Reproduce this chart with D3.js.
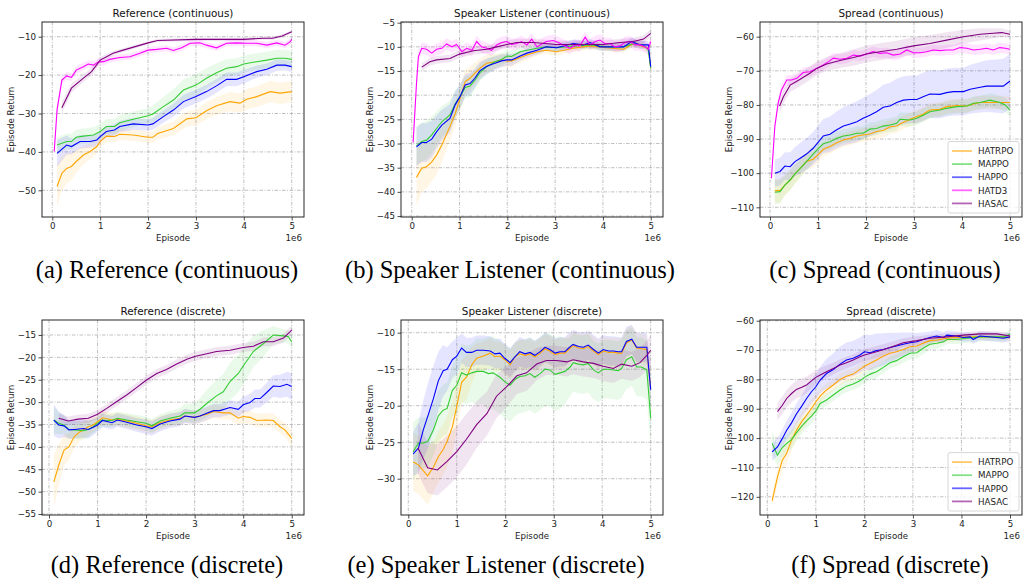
<!DOCTYPE html>
<html><head><meta charset="utf-8">
<script src="https://cdn.jsdelivr.net/npm/d3@7"></script>
<style>
body{margin:0;background:#fff;}
svg text{font-family:"DejaVu Sans",sans-serif;}
</style></head>
<body>
<script>
// ---------- categories / legend ----------
const algos = ["HATRPO","MAPPO","HAPPO","HATD3","HASAC"];
const algoColors = {HATRPO:"#ffa500",MAPPO:"#33cc33",HAPPO:"#0000ff",HATD3:"#ff00ff",HASAC:"#800080"};
const xTicks = [0,1,2,3,4,5];

// ---------- (a) Reference (continuous): [episode(1e6), mean, sd] ----------
const refC_HATRPO = [[0.1,-49.0,5.5],[0.2,-45.6,4.5],[0.3,-44.3,4],[0.4,-43.8,3.5],[0.5,-42.5,3],[0.65,-40.8,2.5],[0.79,-39.9,2],[0.93,-38.6,1.8],[1.0,-37.3,1.5],[1.13,-35.9,1.5],[1.3,-36.0,1.5],[1.41,-35.4,1.5],[1.69,-35.6,1.5],[2.0,-36.2,1.5],[2.1,-36.2,1.5],[2.2,-35.2,1.6],[2.53,-33.9,1.8],[2.81,-31.4,2],[3.0,-31.1,2],[3.22,-29.3,2.2],[3.43,-28.0,2.3],[3.71,-26.9,2.5],[3.92,-27.3,2.5],[4.06,-26.3,2.6],[4.27,-25.6,2.7],[4.55,-24.3,2.8],[4.76,-24.7,2.8],[5.0,-24.3,2.8]];
const refC_MAPPO = [[0.1,-38.2,2],[0.3,-37.3,2],[0.4,-37.3,2],[0.5,-36.2,2],[0.65,-35.9,2],[0.86,-35.6,2],[1.0,-34.7,2],[1.13,-33.4,2],[1.3,-33.4,2],[1.41,-32.4,2],[1.69,-31.5,2],[2.0,-30.6,2],[2.1,-30.1,2.2],[2.32,-28.2,2.5],[2.53,-26.5,2.8],[2.74,-23.9,2.8],[3.0,-22.6,2.8],[3.22,-20.8,2.6],[3.43,-19.4,2.5],[3.64,-18.2,2.3],[3.85,-17.8,2.2],[4.0,-17.1,2.2],[4.27,-16.5,2.2],[4.48,-16.1,2.2],[4.69,-15.6,2.2],[4.86,-15.6,2.2],[5.0,-15.9,2.2]];
const refC_HAPPO = [[0.1,-40.4,3.5],[0.3,-38.2,2.5],[0.4,-38.6,2],[0.58,-37.3,1.8],[0.79,-37.3,1.6],[0.93,-36.9,1.5],[1.0,-36.0,1.5],[1.13,-34.7,1.5],[1.3,-34.3,1.5],[1.41,-33.4,1.5],[1.69,-32.7,1.5],[2.0,-33.0,1.5],[2.1,-32.7,1.5],[2.32,-30.8,1.6],[2.53,-29.1,1.7],[2.74,-26.9,1.8],[3.0,-25.6,1.8],[3.22,-24.3,1.8],[3.43,-22.8,1.8],[3.64,-21.1,1.8],[3.85,-21.1,1.8],[4.0,-20.4,1.7],[4.27,-19.1,1.6],[4.48,-18.5,1.5],[4.69,-17.4,1.5],[4.86,-17.4,1.4],[5.0,-17.8,1.4]];
const refC_HATD3 = [[0.04,-39.9,1.5],[0.1,-29,1.5],[0.2,-21.3,1],[0.3,-20.2,1],[0.4,-20.6,1],[0.5,-18.7,1],[0.65,-17.8,1],[0.75,-17.1,1],[0.86,-17.4,1],[0.96,-16.6,1],[1.07,-16.5,1],[1.2,-15.9,0.8],[1.41,-15.4,0.8],[1.62,-15.2,0.8],[1.83,-14.3,0.8],[2.0,-13.5,0.8],[2.18,-13.3,0.8],[2.39,-13.0,0.8],[2.53,-13.6,0.8],[2.7,-12.9,0.8],[2.88,-11.7,0.8],[3.08,-11.6,0.8],[3.22,-12.2,0.8],[3.43,-12.9,0.8],[3.64,-11.7,0.8],[3.85,-11.6,0.8],[4.06,-11.7,0.8],[4.27,-11.7,0.8],[4.48,-12.2,0.8],[4.69,-11.6,0.8],[4.86,-12.2,0.8],[4.97,-11.3,0.8],[5.0,-10.7,0.8]];
const refC_HASAC = [[0.2,-28.5,1.5],[0.4,-23.4,1.2],[0.65,-20.8,1],[0.82,-19.1,1],[1.0,-16.1,0.8],[1.27,-14.3,0.6],[1.48,-13.5,0.5],[2.0,-11.6,0.4],[2.2,-11.0,0.4],[3.0,-10.7,0.4],[4.0,-10.7,0.4],[4.4,-10.4,0.4],[4.6,-10.4,0.4],[4.8,-9.8,0.4],[5.0,-8.7,0.4]];

// ---------- (b) Speaker Listener (continuous) ----------
const spkC_HATRPO = [[0.1,-37.0,6],[0.21,-35.1,5],[0.31,-34.8,4.5],[0.42,-33.8,4],[0.52,-32.4,4],[0.63,-30.3,3.5],[0.8,-26.5,3],[0.91,-23.8,2.5],[1.01,-20.7,2.5],[1.12,-17.2,2.5],[1.22,-16.5,2.5],[1.32,-15.5,2.2],[1.43,-14.4,2],[1.57,-13.4,1.8],[1.74,-13.1,1.5],[1.88,-12.7,1.3],[1.99,-12.9,1.2],[2.09,-12.9,1.2],[2.27,-12.2,1],[2.41,-11.7,1],[2.62,-11.0,0.8],[2.82,-10.7,0.8],[3.03,-11.0,0.8],[3.38,-10.3,0.7],[3.73,-9.8,0.7],[4.08,-10.2,0.7],[4.43,-10.5,0.7],[4.64,-9.3,0.7],[4.85,-10.0,0.7],[4.95,-10.3,0.7],[5.0,-14.4,1]];
const spkC_MAPPO = [[0.1,-30.5,4],[0.21,-29.6,4],[0.31,-29.3,4],[0.42,-28.2,3.8],[0.52,-26.9,3.5],[0.63,-25.5,3.2],[0.8,-24.1,3],[0.91,-21.8,2.8],[1.01,-20.3,2.5],[1.12,-18.4,2.3],[1.22,-18.1,2.2],[1.32,-16.9,2],[1.43,-15.3,1.8],[1.57,-14.1,1.6],[1.74,-13.1,1.4],[1.88,-12.6,1.3],[1.99,-11.9,1.2],[2.09,-12.0,1.2],[2.27,-11.0,1],[2.41,-10.7,1],[2.62,-10.3,0.9],[2.82,-10.0,0.8],[3.03,-10.2,0.8],[3.38,-9.8,0.8],[3.73,-9.6,0.8],[4.08,-10.0,0.8],[4.43,-10.0,0.8],[4.64,-9.3,0.8],[4.85,-9.6,0.8],[4.95,-10.7,0.8],[5.0,-14.4,1]];
const spkC_HAPPO = [[0.1,-30.7,4],[0.21,-29.8,4],[0.31,-29.8,4],[0.42,-29.1,3.8],[0.52,-27.6,3.5],[0.63,-26.2,3.2],[0.8,-24.8,3],[0.91,-22.0,2.8],[1.01,-20.3,2.5],[1.12,-17.9,2.3],[1.22,-17.6,2.2],[1.32,-16.5,2],[1.43,-14.9,1.8],[1.57,-14.0,1.6],[1.74,-13.4,1.4],[1.88,-12.9,1.3],[1.99,-12.7,1.2],[2.09,-12.7,1.2],[2.27,-11.9,1],[2.41,-11.3,1],[2.62,-10.7,0.9],[2.82,-10.0,0.8],[3.03,-10.2,0.8],[3.38,-9.3,0.8],[3.59,-9.6,0.8],[3.73,-9.1,0.8],[3.94,-10.0,0.8],[4.22,-10.0,0.8],[4.43,-10.0,0.8],[4.6,-8.9,0.8],[4.78,-9.6,0.8],[4.95,-9.6,0.8],[5.0,-14.1,1]];
const spkC_HATD3 = [[0.03,-29.8,2],[0.1,-17.6,1.5],[0.14,-12.0,1.2],[0.21,-10.3,1.2],[0.31,-10.5,1.2],[0.42,-11.3,1.2],[0.52,-10.5,1.2],[0.63,-10.3,1.2],[0.73,-9.4,1.2],[0.84,-10.0,1.2],[0.94,-9.5,1.2],[1.05,-11.0,1.2],[1.15,-10.3,1.2],[1.26,-10.7,1.2],[1.36,-8.9,1.2],[1.46,-10.0,1.2],[1.57,-10.3,1.2],[1.67,-10.7,1.2],[1.78,-9.6,1.2],[1.88,-9.1,1.2],[1.99,-8.9,1.2],[2.09,-9.5,1.2],[2.2,-9.3,1.2],[2.3,-8.9,1.2],[2.41,-9.6,1.2],[2.51,-8.4,1.2],[2.62,-10.0,1.2],[2.72,-9.4,1.2],[2.82,-8.9,1.2],[2.96,-8.7,1.2],[3.07,-9.1,1.2],[3.17,-9.6,1.2],[3.31,-10.3,1.2],[3.42,-9.6,1.2],[3.52,-9.8,1.2],[3.63,-8.0,1.2],[3.73,-9.6,1.2],[3.84,-8.9,1.2],[3.94,-8.6,1.2],[4.04,-9.3,1.2],[4.15,-9.3,1.2],[4.25,-10.0,1.2],[4.36,-9.8,1.2],[4.46,-9.1,1.2],[4.57,-8.9,1.2],[4.67,-9.6,1.2],[4.78,-9.6,1.2],[4.88,-10.0,1.2],[4.95,-10.5,1.2],[5.0,-8.9,1.2]];
const spkC_HASAC = [[0.21,-14.2,0.8],[0.38,-13.1,0.8],[0.52,-12.7,0.8],[0.8,-12.4,0.8],[1.0,-11.5,0.8],[1.29,-10.8,0.8],[1.57,-10.5,0.8],[1.78,-10.0,0.8],[1.99,-9.5,0.8],[2.2,-9.1,0.8],[2.55,-9.1,0.8],[3.03,-9.5,0.8],[3.52,-9.5,0.8],[4.01,-9.5,0.8],[4.36,-9.1,0.8],[4.64,-8.9,0.8],[4.85,-8.4,0.8],[5.0,-7.2,0.8]];

// ---------- (c) Spread (continuous) ----------
const sprC_HATRPO = [[0.1,-105.1,3.5],[0.21,-105.1,3.5],[0.31,-103.5,3],[0.42,-102.0,3],[0.52,-100.2,2.8],[0.63,-98.6,2.6],[0.76,-96.6,2.5],[0.9,-95.9,2.4],[1.01,-94.5,2.3],[1.11,-93.0,2.2],[1.25,-92.2,2.1],[1.39,-91.1,2],[1.53,-90.3,2],[1.67,-89.8,2],[1.81,-89.1,2],[1.94,-88.8,2],[2.08,-88.5,2],[2.22,-87.8,2],[2.36,-87.5,2],[2.5,-86.4,2],[2.64,-86.2,2],[2.71,-85.6,2],[2.92,-84.2,2],[3.06,-83.4,2],[3.19,-82.7,2],[3.33,-81.5,2],[3.54,-81.3,2],[3.68,-80.5,2],[3.89,-80.2,2],[4.1,-80.3,2],[4.24,-79.7,2],[4.38,-79.3,2],[4.58,-79.3,2],[4.79,-79.3,2],[4.9,-79.3,2],[5.0,-79.3,2]];
const sprC_MAPPO = [[0.1,-105.6,3.5],[0.21,-105.4,3.5],[0.31,-103.5,3],[0.42,-102.0,3],[0.52,-100.2,2.8],[0.63,-98.6,2.6],[0.76,-96.6,2.5],[0.9,-94.4,2.4],[1.01,-92.7,2.3],[1.11,-91.4,2.2],[1.25,-90.8,2.1],[1.39,-89.8,2],[1.53,-89.1,2],[1.67,-88.8,2],[1.81,-88.3,2],[1.94,-88.3,2],[2.08,-87.1,2],[2.22,-86.9,2],[2.36,-86.2,2],[2.5,-85.9,2],[2.64,-85.4,2],[2.71,-84.2,2],[2.92,-84.4,2],[3.06,-83.9,2],[3.19,-83.0,2],[3.33,-82.0,2],[3.54,-81.5,2],[3.68,-81.0,2],[3.89,-80.5,2],[4.1,-80.3,2],[4.24,-79.5,2],[4.38,-79.3,2],[4.58,-78.6,2],[4.79,-79.3,2],[4.9,-80.0,2],[5.0,-81.5,2]];
const sprC_HAPPO = [[0.1,-100.0,4],[0.21,-99.5,4],[0.31,-97.9,4],[0.42,-98.1,4.2],[0.52,-96.6,4.3],[0.63,-95.6,4.5],[0.76,-94.4,4.6],[0.9,-92.7,4.8],[1.01,-90.8,5],[1.11,-89.1,5],[1.25,-88.6,5.2],[1.39,-87.3,5.4],[1.53,-86.2,5.6],[1.67,-85.6,5.8],[1.81,-84.9,6],[1.94,-83.9,6],[2.08,-83.0,6.2],[2.22,-82.0,6.4],[2.36,-80.7,6.6],[2.5,-80.3,6.8],[2.64,-79.3,7],[2.78,-78.6,7],[2.92,-78.4,7],[3.06,-78.4,7],[3.19,-77.6,7],[3.33,-76.8,7],[3.54,-76.9,7],[3.68,-76.4,7],[3.82,-76.1,7],[4.03,-76.1,7],[4.17,-75.4,7.2],[4.38,-74.8,7.4],[4.51,-74.5,7.6],[4.72,-74.5,7.8],[4.86,-74.5,8],[5.0,-73.0,8]];
const sprC_HATD3 = [[0.03,-101.5,1.5],[0.1,-86.4,1.5],[0.17,-79.5,1.5],[0.24,-75.6,1.5],[0.35,-72.7,1.5],[0.45,-72.7,1.5],[0.56,-72.2,1.5],[0.69,-70.5,1.5],[0.83,-70.3,1.5],[0.97,-69.3,1.5],[1.11,-68.3,1.5],[1.22,-67.3,1.5],[1.32,-66.3,1.5],[1.46,-66.6,1.5],[1.6,-66.3,1.5],[1.74,-65.4,1.5],[1.88,-65.7,1.5],[2.01,-65.1,1.5],[2.15,-64.4,1.5],[2.29,-64.9,1.5],[2.43,-64.7,1.5],[2.57,-65.4,1.5],[2.71,-65.1,1.5],[2.85,-63.9,1.5],[2.99,-64.7,1.5],[3.13,-64.7,1.5],[3.26,-64.4,1.5],[3.4,-63.9,1.5],[3.54,-64.1,1.5],[3.68,-63.9,1.5],[3.82,-63.9,1.5],[3.96,-63.2,1.5],[4.1,-63.4,1.5],[4.24,-63.9,1.5],[4.38,-63.7,1.5],[4.51,-63.4,1.5],[4.65,-63.9,1.5],[4.79,-63.2,1.5],[4.9,-63.4,1.5],[5.0,-63.7,1.5]];
const sprC_HASAC = [[0.2,-80.3,2],[0.28,-77.6,2],[0.42,-74.2,2],[0.63,-72.5,2],[0.83,-70.7,2],[0.97,-69.3,2],[1.18,-68.0,2],[1.46,-67.0,2.2],[1.74,-66.1,2.4],[2.01,-65.1,2.5],[2.29,-64.4,2.5],[2.64,-63.7,2.5],[2.99,-62.7,2.5],[3.33,-62.0,2.5],[3.68,-61.0,2.3],[4.03,-60.0,2],[4.38,-59.3,1.8],[4.65,-59.0,1.5],[4.83,-58.8,1.2],[5.0,-59.3,1]];

// ---------- (d) Reference (discrete) ----------
const refD_HATRPO = [[0.1,-47.8,6],[0.2,-44.1,4.5],[0.31,-40.7,3.5],[0.41,-40.0,3],[0.52,-37.7,2.5],[0.64,-36.6,2],[0.81,-35.5,1.8],[0.91,-35.1,1.5],[1.0,-34.4,1.5],[1.1,-33.5,1.5],[1.3,-34.0,1.5],[1.41,-33.8,1.5],[1.6,-34.2,1.5],[1.81,-34.7,1.5],[2.0,-35.3,1.5],[2.12,-35.5,1.5],[2.29,-34.6,1.5],[2.49,-34.0,1.5],[2.7,-33.6,1.5],[2.8,-33.1,1.5],[3.0,-33.4,1.5],[3.25,-32.7,1.5],[3.39,-32.1,1.5],[3.59,-32.4,1.5],[3.73,-32.4,1.5],[3.9,-33.6,1.5],[4.0,-33.2,1.5],[4.14,-33.4,1.5],[4.28,-34.1,1.5],[4.48,-34.0,1.5],[4.62,-34.1,1.5],[4.76,-35.5,1.5],[4.86,-36.2,1.6],[5.0,-38.1,1.8]];
const refD_MAPPO = [[0.1,-34.0,3],[0.2,-34.7,2.5],[0.31,-35.1,2],[0.41,-36.1,2],[0.52,-36.2,2],[0.71,-36.4,2],[0.81,-36.1,1.8],[0.91,-35.5,1.5],[1.0,-34.7,1.5],[1.1,-34.0,1.5],[1.2,-34.1,1.5],[1.3,-34.1,1.5],[1.41,-33.6,1.5],[1.6,-34.0,1.5],[1.81,-34.4,1.5],[2.0,-34.7,1.5],[2.12,-35.3,1.5],[2.29,-34.2,1.5],[2.49,-33.6,1.6],[2.7,-33.1,1.8],[2.8,-32.4,2],[3.0,-32.4,2.2],[3.11,-31.6,2.5],[3.25,-30.3,3],[3.45,-28.6,3.5],[3.59,-27.7,4],[3.73,-25.4,4.2],[3.9,-23.6,4.2],[4.04,-21.3,4],[4.21,-18.7,3.5],[4.42,-16.9,3],[4.62,-15.0,2],[4.83,-15.2,1.5],[4.93,-15.4,1.5],[5.0,-16.5,1.5]];
const refD_HAPPO = [[0.1,-34.0,3.5],[0.2,-35.1,3],[0.31,-35.3,2.5],[0.41,-36.2,2],[0.52,-36.1,2],[0.71,-35.9,2],[0.81,-36.1,2],[0.91,-35.6,1.8],[1.0,-35.1,1.5],[1.1,-34.1,1.5],[1.3,-34.6,1.5],[1.41,-34.0,1.5],[1.6,-34.5,1.5],[1.81,-35.1,1.5],[2.0,-35.5,1.6],[2.12,-35.9,1.6],[2.29,-34.9,1.6],[2.49,-34.2,1.6],[2.7,-33.8,1.6],[2.8,-33.1,1.6],[3.0,-33.4,1.5],[3.11,-33.1,1.5],[3.25,-32.5,1.5],[3.39,-31.9,1.5],[3.52,-31.9,1.5],[3.73,-31.2,1.6],[3.9,-31.6,1.7],[4.0,-30.6,1.8],[4.14,-30.1,1.9],[4.24,-29.2,2],[4.35,-29.2,2],[4.48,-27.9,2.2],[4.62,-26.4,2.4],[4.76,-26.5,2.6],[4.9,-26.0,2.8],[5.0,-26.5,3]];
const refD_HASAC = [[0.2,-33.6,1],[0.4,-34.2,1],[0.6,-33.8,1],[0.81,-33.6,1],[1.0,-32.7,1],[1.19,-31.4,1],[1.39,-29.9,1],[1.6,-28.4,1],[1.81,-26.7,1],[2.0,-25.1,1],[2.22,-23.6,1],[2.42,-22.7,1],[2.63,-21.5,1],[2.84,-20.4,1],[3.0,-19.8,1],[3.25,-19.2,1],[3.45,-18.7,1],[3.73,-18.4,1],[4.0,-17.8,1],[4.21,-17.5,1],[4.42,-16.5,1],[4.62,-16.5,1],[4.83,-15.7,1],[5.0,-13.9,1]];

// ---------- (e) Speaker Listener (discrete) ----------
const spkD_HATRPO = [[0.1,-27.7,4],[0.21,-28.1,4],[0.4,-29.6,4],[0.52,-28.4,3.5],[0.62,-27.0,3.5],[0.72,-26.0,3.5],[0.8,-24.9,3.5],[0.91,-22.9,3.5],[1.0,-20.1,3.5],[1.1,-16.8,3],[1.2,-16.1,3],[1.31,-14.4,2.5],[1.41,-13.5,2],[1.55,-13.2,2],[1.69,-12.8,2],[1.79,-13.3,2],[1.89,-13.2,2],[1.99,-13.7,2],[2.1,-14.4,2],[2.2,-13.3,2],[2.3,-12.9,2],[2.41,-13.1,2],[2.51,-12.9,2],[2.61,-13.3,2],[2.72,-12.8,2],[2.82,-12.2,2],[2.92,-12.5,2],[3.03,-13.0,2],[3.13,-12.8,2],[3.23,-12.8,2],[3.34,-12.1,2],[3.4,-11.8,2],[3.51,-12.1,2],[3.61,-12.2,2],[3.71,-11.9,2],[3.82,-12.5,2],[3.92,-13.0,2],[4.02,-12.5,2],[4.13,-12.7,2],[4.23,-12.7,2],[4.33,-12.8,2],[4.4,-12.8,2],[4.5,-11.4,2],[4.61,-11.0,2],[4.71,-12.1,2],[4.81,-12.2,2],[4.92,-12.3,2],[5.0,-17.6,3]];
const spkD_MAPPO = [[0.1,-26.3,4],[0.21,-25.1,3.5],[0.31,-25.1,3.5],[0.4,-24.9,3.5],[0.52,-23.3,3.5],[0.62,-21.4,3.5],[0.72,-20.6,3.5],[0.8,-20.4,3.5],[0.91,-17.9,3.5],[1.0,-17.2,4],[1.1,-15.5,4],[1.2,-15.8,4],[1.31,-15.5,4],[1.41,-15.3,4.5],[1.55,-15.3,4.5],[1.65,-15.6,5],[1.75,-15.5,5],[1.89,-16.1,5],[1.99,-16.7,5],[2.1,-17.2,5],[2.2,-16.4,5],[2.3,-16.0,5],[2.41,-15.9,5],[2.51,-15.6,5],[2.61,-16.1,5],[2.72,-15.6,5],[2.82,-15.0,5],[2.92,-15.1,5],[3.03,-15.7,5],[3.13,-15.5,5],[3.23,-15.3,4.5],[3.34,-14.7,4],[3.4,-14.1,4],[3.51,-14.3,4],[3.61,-14.4,4],[3.71,-14.2,4],[3.82,-15.1,4],[3.92,-15.5,4],[4.02,-15.0,4],[4.13,-15.0,4],[4.23,-15.1,4],[4.33,-15.2,4],[4.4,-14.9,4],[4.5,-13.7,4],[4.61,-13.3,4],[4.71,-14.7,4],[4.81,-14.7,4],[4.92,-15.1,4],[5.0,-21.7,4]];
const spkD_HAPPO = [[0.1,-26.6,3],[0.21,-25.8,3.5],[0.31,-23.3,4],[0.41,-21.3,4.5],[0.52,-19.0,4.5],[0.62,-16.6,4],[0.72,-15.2,3.5],[0.8,-15.0,3],[0.91,-13.7,2.5],[1.0,-13.2,2.5],[1.1,-12.1,2],[1.2,-12.7,2],[1.31,-12.7,2],[1.41,-12.4,2],[1.55,-12.4,2],[1.69,-12.5,2],[1.79,-12.9,2],[1.89,-12.8,2],[1.99,-13.5,2],[2.1,-14.1,2],[2.2,-13.3,2],[2.3,-12.6,2],[2.41,-12.9,2],[2.51,-12.7,2],[2.61,-13.1,2],[2.72,-12.6,2],[2.82,-12.0,2],[2.92,-12.3,2],[3.03,-12.8,2],[3.13,-12.6,2],[3.23,-12.6,2],[3.34,-11.9,2],[3.4,-11.6,2],[3.51,-11.9,2],[3.61,-12.0,2],[3.71,-11.7,2],[3.82,-12.3,2],[3.92,-12.8,2],[4.02,-12.3,2],[4.13,-12.5,2],[4.23,-12.5,2],[4.33,-12.6,2],[4.4,-12.6,2],[4.5,-11.2,2],[4.61,-10.9,2],[4.71,-12.0,2],[4.81,-12.0,2],[4.92,-12.0,2],[5.0,-17.8,3]];
const spkD_HASAC = [[0.2,-25.8,3.5],[0.4,-28.5,3.5],[0.6,-28.8,3.5],[0.79,-27.7,3.5],[1.0,-26.3,3.5],[1.2,-24.6,3.5],[1.41,-22.6,3.2],[1.62,-21.1,3],[1.82,-18.7,3],[2.03,-17.4,2.8],[2.24,-15.9,2.5],[2.44,-15.5,2.5],[2.65,-14.3,2.2],[2.85,-13.8,2],[3.06,-13.8,2],[3.27,-14.0,2],[3.4,-13.7,2],[3.61,-14.0,2],[3.82,-14.2,2],[4.02,-14.6,2],[4.23,-14.9,2],[4.4,-14.3,2],[4.61,-14.6,2],[4.78,-14.1,2],[4.92,-13.1,2],[5.0,-12.4,2]];

// ---------- (f) Spread (discrete) ----------
const sprD_HATRPO = [[0.1,-121.4,2],[0.21,-113.2,3],[0.31,-107.5,3.5],[0.4,-105.2,3.5],[0.5,-100.7,3.5],[0.6,-97.3,3],[0.71,-94.4,3],[0.81,-92.2,3],[0.91,-89.9,2.8],[1.0,-87.6,2.5],[1.09,-85.7,2.3],[1.22,-83.6,2],[1.36,-81.9,2],[1.5,-80.0,2],[1.63,-78.9,2],[1.77,-78.2,2],[1.91,-76.6,2],[2.0,-75.5,2],[2.12,-74.5,2],[2.25,-73.4,2],[2.39,-72.0,2],[2.53,-71.1,2],[2.66,-70.6,2],[2.8,-69.8,2],[2.94,-68.9,1.8],[3.08,-68.6,1.8],[3.21,-67.7,1.6],[3.35,-66.8,1.5],[3.49,-66.6,1.5],[3.7,-66.0,1.2],[3.9,-65.7,1.2],[4.11,-65.5,1],[4.38,-65.5,1],[4.73,-65.5,1],[5.0,-65.8,1]];
const sprD_MAPPO = [[0.1,-101.8,4],[0.21,-105.8,3.5],[0.31,-103.2,3],[0.4,-101.8,3],[0.5,-100.5,3],[0.6,-98.2,2.8],[0.71,-95.9,2.5],[0.81,-94.1,2.5],[0.91,-92.5,2.5],[1.0,-90.7,2.2],[1.09,-88.2,2],[1.22,-87.0,2],[1.36,-85.3,2],[1.5,-83.6,2],[1.63,-82.3,2],[1.77,-81.6,2],[1.91,-80.5,2],[2.0,-79.3,2],[2.12,-78.2,2],[2.25,-77.4,2],[2.39,-75.9,2],[2.53,-74.3,2],[2.66,-73.6,2],[2.8,-72.3,2],[2.94,-71.1,2],[3.08,-70.9,2],[3.21,-69.4,2],[3.35,-68.0,1.8],[3.49,-67.7,1.8],[3.63,-67.2,1.6],[3.7,-66.4,1.5],[3.9,-66.4,1.5],[4.11,-66.0,1.5],[4.38,-65.5,1.5],[4.73,-65.5,1.5],[4.9,-65.5,1.5],[5.0,-64.5,1.5]];
const sprD_HAPPO = [[0.1,-104.7,3],[0.21,-103.0,3],[0.31,-100.1,3],[0.4,-97.3,3.2],[0.5,-94.8,3.4],[0.6,-91.8,3.6],[0.71,-89.1,3.8],[0.81,-86.5,4],[0.91,-84.2,4],[1.0,-82.5,4.2],[1.09,-80.2,4.5],[1.22,-78.0,5],[1.36,-76.6,5.5],[1.5,-74.8,6],[1.63,-73.4,6],[1.77,-72.8,6],[1.91,-71.7,6],[2.0,-70.6,6],[2.12,-70.9,6],[2.25,-70.2,5.8],[2.39,-69.8,5.5],[2.53,-69.1,5],[2.66,-68.6,4.5],[2.8,-68.0,4],[2.94,-67.5,3.5],[3.08,-67.2,3],[3.21,-66.4,2.5],[3.35,-65.7,2],[3.49,-65.2,2],[3.63,-65.7,1.8],[3.7,-64.9,1.6],[3.9,-65.2,1.5],[4.04,-65.7,1.5],[4.18,-65.5,1.5],[4.24,-66.4,1.5],[4.38,-65.2,1.5],[4.73,-65.7,1.5],[4.86,-66.0,1.5],[5.0,-65.5,1.5]];
const sprD_HASAC = [[0.21,-91.0,3],[0.31,-88.8,3],[0.4,-86.5,3],[0.5,-84.8,3],[0.6,-83.4,3],[0.71,-82.7,3],[0.81,-81.9,2.8],[0.91,-80.5,2.6],[1.0,-79.3,2.5],[1.09,-78.5,2.4],[1.22,-77.4,2.2],[1.36,-76.3,2],[1.5,-75.1,2],[1.63,-74.3,2],[1.77,-73.4,2],[1.91,-72.3,2],[2.0,-71.7,2],[2.25,-70.6,2],[2.53,-69.1,1.8],[2.8,-67.5,1.5],[3.08,-66.8,1.5],[3.35,-66.0,1.2],[3.7,-65.5,1.2],[4.04,-64.9,1],[4.38,-64.5,1],[4.73,-64.5,1],[5.0,-65.2,1]];

// ---------- y tick labels per panel ----------
const yTicksA = [-50,-40,-30,-20,-10];
const yTicksB = [-45,-40,-35,-30,-25,-20,-15,-10,-5];
const yTicksC = [-110,-100,-90,-80,-70,-60];
const yTicksD = [-55,-50,-45,-40,-35,-30,-25,-20,-15];
const yTicksE = [-30,-25,-20,-15,-10];
const yTicksF = [-120,-110,-100,-90,-80,-70,-60];

const titles = ["Reference (continuous)","Speaker Listener (continuous)","Spread (continuous)","Reference (discrete)","Speaker Listener (discrete)","Spread (discrete)"];
const captions = ["(a) Reference (continuous)","(b) Speaker Listener (continuous)","(c) Spread (continuous)","(d) Reference (discrete)","(e) Speaker Listener (discrete)","(f) Spread (discrete)"];

// ---------- layout ----------
const W = 1023, H = 582;
const svg = d3.select("body").append("svg").attr("width", W).attr("height", H);
const colsX = [[42,304],[401,663],[760,1022]];
const rowsY = [[22,217],[320,515]];

const panels = [
  {col:0,row:0,xd:[-0.215,5.257],yd:[-56.95,-6.17],yt:yTicksA,series:{HATRPO:refC_HATRPO,MAPPO:refC_MAPPO,HAPPO:refC_HAPPO,HATD3:refC_HATD3,HASAC:refC_HASAC},legend:false,cap:[167,278]},
  {col:1,row:0,xd:[-0.224,5.257],yd:[-45.2,-4.86],yt:yTicksB,series:{HATRPO:spkC_HATRPO,MAPPO:spkC_MAPPO,HAPPO:spkC_HAPPO,HATD3:spkC_HATD3,HASAC:spkC_HASAC},legend:false,cap:[510,278]},
  {col:2,row:0,xd:[-0.208,5.25],yd:[-112.84,-55.7],yt:yTicksC,series:{HATRPO:sprC_HATRPO,MAPPO:sprC_MAPPO,HAPPO:sprC_HAPPO,HATD3:sprC_HATD3,HASAC:sprC_HASAC},legend:true,cap:[885,278]},
  {col:0,row:1,xd:[-0.144,5.253],yd:[-55.22,-11.65],yt:yTicksD,series:{HATRPO:refD_HATRPO,MAPPO:refD_MAPPO,HAPPO:refD_HAPPO,HASAC:refD_HASAC},legend:false,cap:[167,573]},
  {col:1,row:1,xd:[-0.15,5.254],yd:[-34.97,-8.26],yt:yTicksE,series:{HATRPO:spkD_HATRPO,MAPPO:spkD_MAPPO,HAPPO:spkD_HAPPO,HASAC:spkD_HASAC},legend:false,cap:[496,573]},
  {col:2,row:1,xd:[-0.15,5.247],yd:[-126.2,-59.76],yt:yTicksF,series:{HATRPO:sprD_HATRPO,MAPPO:sprD_MAPPO,HAPPO:sprD_HAPPO,HASAC:sprD_HASAC},legend:true,cap:[890,573]}
];

const fmt = d3.format("d");
panels.forEach((p, i) => {
  const [x0, x1] = colsX[p.col];
  const [y0, y1] = rowsY[p.row];
  const x = d3.scaleLinear().domain(p.xd).range([x0, x1]);
  const y = d3.scaleLinear().domain(p.yd).range([y1, y0]);
  const g = svg.append("g");
  const clipId = "clip" + i;
  g.append("clipPath").attr("id", clipId).append("rect")
    .attr("x", x0).attr("y", y0).attr("width", x1 - x0).attr("height", y1 - y0);

  // grid
  const grid = g.append("g").attr("stroke", "#b0b0b0").attr("stroke-width", 0.8).attr("stroke-dasharray", "3.5,1.5,1,1.5");
  xTicks.forEach(t => grid.append("line").attr("x1", x(t)).attr("x2", x(t)).attr("y1", y0).attr("y2", y1));
  p.yt.forEach(t => grid.append("line").attr("x1", x0).attr("x2", x1).attr("y1", y(t)).attr("y2", y(t)));

  // data
  const plot = g.append("g").attr("clip-path", `url(#${clipId})`);
  const area = d3.area().x(d => x(d[0])).y0(d => y(d[1] - d[2])).y1(d => y(d[1] + d[2]));
  const line = d3.line().x(d => x(d[0])).y(d => y(d[1]));
  algos.forEach(a => {
    const s = p.series[a];
    if (!s) return;
    plot.append("path").attr("d", area(s)).attr("fill", algoColors[a]).attr("fill-opacity", 0.1).attr("stroke", "none");
  });
  algos.forEach(a => {
    const s = p.series[a];
    if (!s) return;
    plot.append("path").attr("d", line(s)).attr("fill", "none").attr("stroke", algoColors[a]).attr("stroke-width", 1.1);
  });

  // axes
  const xa = g.append("g").attr("transform", `translate(0,${y1})`)
    .call(d3.axisBottom(x).tickValues(xTicks).tickFormat(fmt).tickSize(3.5).tickPadding(2.5));
  const ya = g.append("g").attr("transform", `translate(${x0},0)`)
    .call(d3.axisLeft(y).tickValues(p.yt).tickFormat(fmt).tickSize(3.5).tickPadding(2.5));
  [xa, ya].forEach(a => {
    a.select(".domain").remove();
    a.selectAll("line").attr("stroke", "#222").attr("stroke-width", 0.8);
    a.selectAll("text").attr("fill", "#222").style("font-size", "8.7px").style("font-family", "DejaVu Sans");
  });

  // frame
  g.append("rect").attr("x", x0).attr("y", y0).attr("width", x1 - x0).attr("height", y1 - y0)
    .attr("fill", "none").attr("stroke", "#111").attr("stroke-width", 0.9);

  // labels
  const cx = (x0 + x1) / 2;
  g.append("text").attr("x", cx).attr("y", y0 - 5).attr("text-anchor", "middle")
    .style("font-size", "10.4px").attr("fill", "#111").text(titles[i]);
  g.append("text").attr("x", cx).attr("y", y1 + 23.5).attr("text-anchor", "middle")
    .style("font-size", "8.7px").attr("fill", "#222").text("Episode");
  g.append("text").attr("x", x1 - 2).attr("y", y1 + 23.5).attr("text-anchor", "end")
    .style("font-size", "8.7px").attr("fill", "#222").text("1e6");
  const lx = x0 - 28;
  g.append("text").attr("transform", `translate(${lx},${(y0 + y1) / 2}) rotate(-90)`)
    .attr("text-anchor", "middle").style("font-size", "8.7px").attr("fill", "#222").text("Episode Return");

  // legend
  if (p.legend) {
    const names = algos.filter(a => p.series[a]);
    const lh = 13.1;
    const bw = 71, bh = names.length * lh + 6;
    const bx = x1 - bw - 3, by = y1 - bh - 4;
    const lg = g.append("g");
    lg.append("rect").attr("x", bx).attr("y", by).attr("width", bw).attr("height", bh).attr("rx", 2)
      .attr("fill", "#fff").attr("fill-opacity", 0.8).attr("stroke", "#ccc").attr("stroke-width", 0.8);
    names.forEach((a, k) => {
      const yy = by + 9.5 + k * lh;
      lg.append("line").attr("x1", bx + 4).attr("x2", bx + 24).attr("y1", yy).attr("y2", yy)
        .attr("stroke", algoColors[a]).attr("stroke-width", 1.8).attr("stroke-opacity", 0.6);
      lg.append("text").attr("x", bx + 30).attr("y", yy + 3.2).style("font-size", "8.7px").attr("fill", "#222").text(a);
    });
  }

  // caption
  svg.append("text").attr("x", p.cap[0]).attr("y", p.cap[1]).attr("text-anchor", "middle")
    .style("font-family", "Liberation Serif").style("font-size", "24.5px").attr("fill", "#000").text(captions[i]);
});
</script>
</body></html>
